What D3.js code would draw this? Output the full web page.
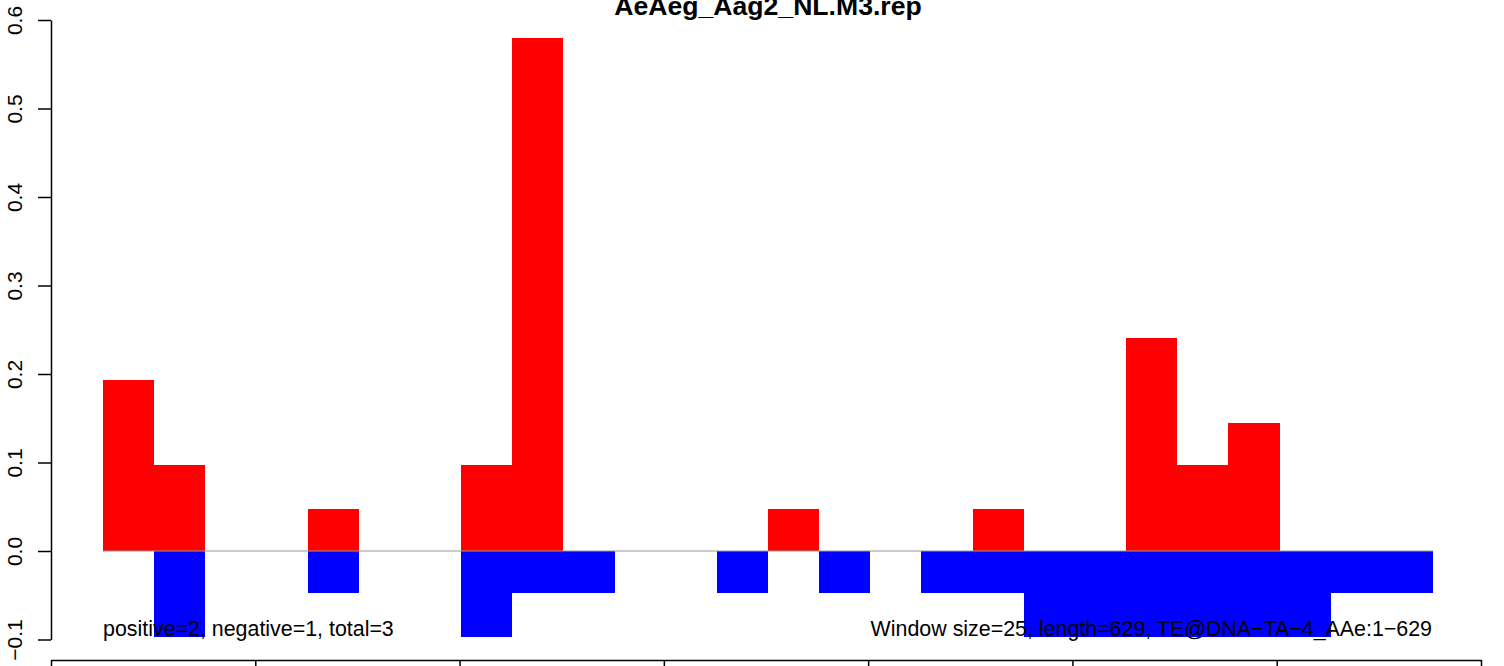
<!DOCTYPE html>
<html>
<head>
<meta charset="utf-8">
<script src="https://cdn.jsdelivr.net/npm/d3@7"></script>
<style>
  html, body { margin: 0; padding: 0; background: #fff; overflow: hidden; }
  text { font-family: "Liberation Sans", Arial, Helvetica, sans-serif; }
</style>
</head>
<body>
<svg id="chart" width="1504" height="666"></svg>
<script>
// ---- data ----
const title = "AeAeg_Aag2_NL.M3.rep";
const windowSize = 25;
const binStarts = d3.range(26).map(i => 25 + i * 25);   // window start positions
const positiveValues = [0.193, 0.097, 0, 0, 0.048, 0, 0, 0.097, 0.58, 0, 0, 0, 0, 0.048, 0, 0, 0, 0.048, 0, 0, 0.241, 0.097, 0.145, 0, 0, 0];
const negativeValues = [0, -0.097, 0, 0, -0.048, 0, 0, -0.097, -0.048, -0.048, 0, 0, -0.048, 0, -0.048, 0, -0.048, -0.048, -0.097, -0.097, -0.097, -0.097, -0.097, -0.097, -0.048, -0.048];
const yTicks = [-0.1, 0.0, 0.1, 0.2, 0.3, 0.4, 0.5, 0.6];
const xTicks = [0, 100, 200, 300, 400, 500, 600, 700];
const leftNote = "positive=2, negative=1, total=3";
const rightNote = "Window size=25, length=629, TE@DNA\u2212TA\u22124_AAe:1\u2212629";

// ---- layout ----
const svg = d3.select("#chart");
const x = d3.scaleLinear().domain([0, 700]).range([51, 1481]);          // axis scale
const xb = d3.scaleLinear().domain([25, 675]).range([103, 1433]);       // bar scale
const y = d3.scaleLinear().domain([-0.1, 0.6]).range([639.5, 20]);

// bars
const g = svg.append("g").attr("shape-rendering", "crispEdges");
g.selectAll("rect.pos").data(binStarts.map((s, i) => ({s, v: positiveValues[i]})).filter(d => d.v !== 0))
  .join("rect").attr("class", "pos")
  .attr("x", d => xb(d.s)).attr("width", d => xb(d.s + windowSize) - xb(d.s))
  .attr("y", d => y(d.v)).attr("height", d => y(0) - y(d.v))
  .attr("fill", "#ff0000");
g.selectAll("rect.neg").data(binStarts.map((s, i) => ({s, v: negativeValues[i]})).filter(d => d.v !== 0))
  .join("rect").attr("class", "neg")
  .attr("x", d => xb(d.s)).attr("width", d => xb(d.s + windowSize) - xb(d.s))
  .attr("y", y(0)).attr("height", d => y(d.v) - y(0))
  .attr("fill", "#0000ff");

// zero line
svg.append("line")
  .attr("x1", xb(binStarts[0])).attr("x2", xb(binStarts[binStarts.length - 1] + windowSize))
  .attr("y1", y(0)).attr("y2", y(0))
  .attr("stroke", "#999").attr("stroke-width", 1);

// y axis
const yAxis = svg.append("g").attr("transform", `translate(${x(0)},0)`)
  .call(d3.axisLeft(y).tickValues(yTicks).tickSize(13).tickSizeOuter(0)
        .tickFormat(d => d < 0 ? "\u2212" + Math.abs(d).toFixed(1) : d.toFixed(1)));
yAxis.select(".domain").attr("stroke", "#000").attr("stroke-width", 1.5);
yAxis.selectAll(".tick line").attr("stroke", "#000").attr("stroke-width", 1.5);
yAxis.selectAll(".tick text")
  .attr("font-size", 21).attr("fill", "#000")
  .attr("text-anchor", "middle")
  .attr("x", null).attr("dy", null)
  .attr("transform", "translate(-29,0) rotate(-90)")
  .attr("y", 0);

// x axis (labels fall below the visible area)
const xAxis = svg.append("g").attr("transform", `translate(0,660)`)
  .call(d3.axisBottom(x).tickValues(xTicks).tickSize(13).tickSizeOuter(0).tickFormat(""));
xAxis.select(".domain").attr("stroke", "#000").attr("stroke-width", 1.5);
xAxis.selectAll(".tick line").attr("stroke", "#000").attr("stroke-width", 1.5);

// title
svg.append("text").attr("x", (x(0) + x(700)) / 2 + 2).attr("y", 15)
  .attr("text-anchor", "middle").attr("font-weight", "bold").attr("font-size", 26.6)
  .attr("fill", "#000").text(title);

// notes
svg.append("text").attr("x", xb(binStarts[0])).attr("y", 636)
  .attr("font-size", 21.4).attr("fill", "#000").text(leftNote);
svg.append("text").attr("x", xb(binStarts[binStarts.length - 1] + windowSize) - 1).attr("y", 636)
  .attr("text-anchor", "end").attr("font-size", 21.4).attr("fill", "#000").text(rightNote);
</script>
</body>
</html>
